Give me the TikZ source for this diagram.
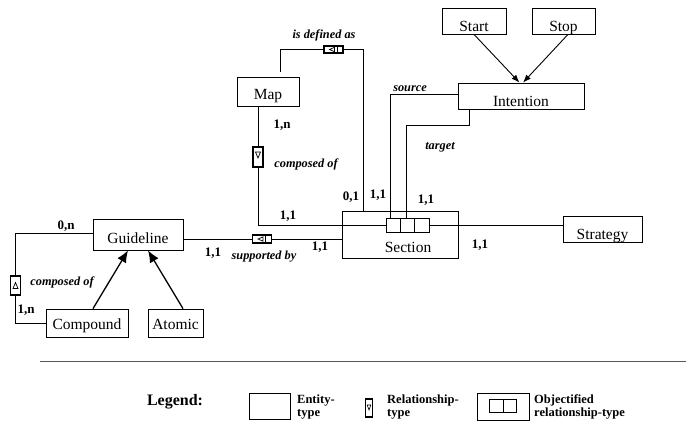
\documentclass[tikz,border=0pt]{standalone}
\usepackage{fontspec}
\setmainfont{Liberation Serif}
\usetikzlibrary{arrows.meta}
\begin{document}
\begin{tikzpicture}[x=1pt,y=-1pt,
  ent/.style={draw, line width=0.8pt, inner sep=0pt, text depth=0pt, text height=#1,
    font=\fontsize{15.5}{18}\selectfont},
  ent/.default=20pt,
  card/.style={font=\bfseries\fontsize{13}{15}\selectfont, inner sep=0pt},
  rname/.style={font=\bfseries\itshape\fontsize{12.3}{14}\selectfont, inner sep=0pt},
  legtxt/.style={font=\bfseries\fontsize{12.5}{13}\selectfont, inner sep=0pt, align=left, anchor=west},
  conn/.style={line width=0.9pt},
  isa/.style={line width=1.3pt, -{Latex[length=12pt,width=10pt]}},
  arr/.style={line width=0.9pt, -{Latex[length=8pt,width=6pt]}},
  cell/.style={draw, line width=0.8pt, minimum width=14.3pt, minimum height=14pt, inner sep=0pt, fill=white},
  relbox/.style={draw, fill=white, line width=1.9pt, inner sep=0pt},
  reldown/.style={relbox, minimum width=10pt, minimum height=20pt,
    path picture={\draw[line width=0.7pt] ([shift={(-2.5,-5)}]path picture bounding box.center)
      -- ++(5,0) -- ++(-2.5,6) -- cycle;}},
  relup/.style={relbox, minimum width=10pt, minimum height=19pt,
    path picture={\draw[line width=0.7pt] ([shift={(-2.5,3)}]path picture bounding box.center)
      -- ++(5,0) -- ++(-2.5,-6) -- cycle;}},
  relleft/.style={relbox, minimum width=19pt, minimum height=7.5pt,
    path picture={\draw[line width=0.7pt] ([shift={(1,-2.2)}]path picture bounding box.center)
      -- ++(0,4.4) -- ++(-5,-2.2) -- cycle;
      \draw[line width=0.7pt] ([shift={(3.5,-3)}]path picture bounding box.center) -- ++(0,6);}},
  relsmall/.style={relbox, line width=1.6pt, minimum width=7pt, minimum height=18pt,
    path picture={\draw[line width=0.6pt] ([shift={(-1.8,-3)}]path picture bounding box.center)
      -- ++(3.6,0) -- ++(-1.8,5) -- cycle;}}
]
\fill[white] (0,0) rectangle (686,429);
\useasboundingbox (0,0) rectangle (686,429);

% entity-types
\node[ent=16pt, minimum width=62pt, minimum height=29pt] (map) at (268,91.5) {Map};
\node[ent, minimum width=64pt, minimum height=26pt] (start) at (474,21) {Start};
\node[ent, minimum width=63pt, minimum height=26pt] (stop) at (563.5,21) {Stop};
\node[ent, minimum width=126pt, minimum height=26pt] (int) at (521,96) {Intention};
\node[ent, minimum width=116pt, minimum height=47pt] (sec) at (400,234.5) {};
\node[font=\fontsize{15.5}{18}\selectfont, inner sep=0pt] (sectxt) at (408,247) {Section};
\node[ent, minimum width=79pt, minimum height=26pt] (strat) at (602.5,229) {Strategy};
\node[ent=17pt, minimum width=90pt, minimum height=31pt] (gl) at (138,234.5) {Guideline};
\node[ent=12pt, minimum width=82pt, minimum height=28pt] (comp) at (87,323) {Compound};
\node[ent=12pt, minimum width=55pt, minimum height=28pt] (atom) at (175.5,323) {Atomic};

% objectified relationship-type inside Section
\node[cell] (c1) at (393.2,225) {};
\node[cell] (c2) at (407.5,225) {};
\node[cell] (c3) at (421.8,225) {};

% relationship-types
\node[relleft] (defas) at (333.5,49.5) {};
\node[reldown] (mapcomp) at (258,157) {};
\node[relleft] (sup) at (262,239) {};
\node[relup] (gcomp) at (15.5,285.5) {};

% connectors
\coordinate (mapTop) at ([shift={(12,-5)}]map.north);
\coordinate (secA) at ([xshift=22pt]sec.north west);
\draw[conn] (mapTop) |- (defas.west);
\draw[conn] (defas.east) -| (secA);

\draw[conn] (map.south -| mapcomp) -- (mapcomp.north);
\draw[conn] (mapcomp.south) |- (c1.west);

\draw[conn] (sup.west -| gl.east) -- (sup.west);
\draw[conn] (sup.east) -- (sup.east -| sec.west);

\draw[conn] (c3.east) -- (c3.east -| strat.west);

\coordinate (srcA) at ([yshift=2pt]int.west);
\draw[conn] (srcA) -| ([xshift=-3pt]c1.north);

\coordinate (tgtA) at ([xshift=-52pt]int.south);
\coordinate (tgtB) at ([yshift=-16pt]tgtA);
\draw[conn] (tgtA) -- (tgtB) -| ([xshift=-1.5pt]c2.north);

\draw[arr] (start.south) -- ([xshift=-1.5pt]int.north);
\draw[arr] ([xshift=4.5pt]stop.south) -- ([xshift=2pt]int.north);

\coordinate (glW) at ([yshift=1.5pt]gl.west);
\draw[conn] (glW) -| (gcomp.north);
\draw[conn] (gcomp.south) |- (comp.west);

\draw[isa] ([xshift=6pt]comp.north) -- ([xshift=-10pt]gl.south);
\draw[isa] ([xshift=7.5pt]atom.north) -- ([xshift=10pt]gl.south);

% cardinalities
\node[card] (k1) at (282,125) {1,n};
\node[card] (k2) at (351,197) {0,1};
\node[card] (k3) at (378,195) {1,1};
\node[card] (k4) at (426,200) {1,1};
\node[card] (k5) at (288,216) {1,1};
\node[card] (k6) at (320,247) {1,1};
\node[card] (k7) at (480,245) {1,1};
\node[card] (k8) at (213,253) {1,1};
\node[card] (k9) at (66,226) {0,n};
\node[card] (k10) at (26,310) {1,n};

% relationship names
\node[rname] (n1) at (324,35) {is defined as};
\node[rname] (n2) at (306,164) {composed of};
\node[rname] (n3) at (410,89) {source};
\node[rname] (n4) at (440,147) {target};
\node[rname] (n5) at (264,257) {supported by};
\node[rname] (n6) at (62,282) {composed of};

% separator
\coordinate (sepL) at (40,361);
\coordinate (sepR) at (686,361);
\draw[line width=0.8pt, black!65] (sepL) -- (sepR);

% legend
\node[font=\bfseries\fontsize{16}{18}\selectfont, inner sep=0pt] (leg) at (175,402) {Legend:};
\node[draw, line width=0.8pt, minimum width=41pt, minimum height=26pt, inner sep=0pt] (lgent) at (269.5,406) {};
\node[legtxt] (lgenttxt) at (297,407) {Entity-\\type};
\node[relsmall] (lgrel) at (369,408) {};
\node[legtxt] (lgreltxt) at (387,407) {Relationship-\\type};
\node[draw, line width=0.8pt, minimum width=52pt, minimum height=27pt, inner sep=0pt] (lgobj) at (503,406.5) {};
\node[draw, line width=0.8pt, minimum width=13.5pt, minimum height=13pt, inner sep=0pt] (lgc1) at (496.25,405.5) {};
\node[draw, line width=0.8pt, minimum width=13.5pt, minimum height=13pt, inner sep=0pt] (lgc2) at (509.75,405.5) {};
\node[legtxt] (lgobjtxt) at (534,407) {Objectified\\relationship-type};
\end{tikzpicture}
\end{document}
